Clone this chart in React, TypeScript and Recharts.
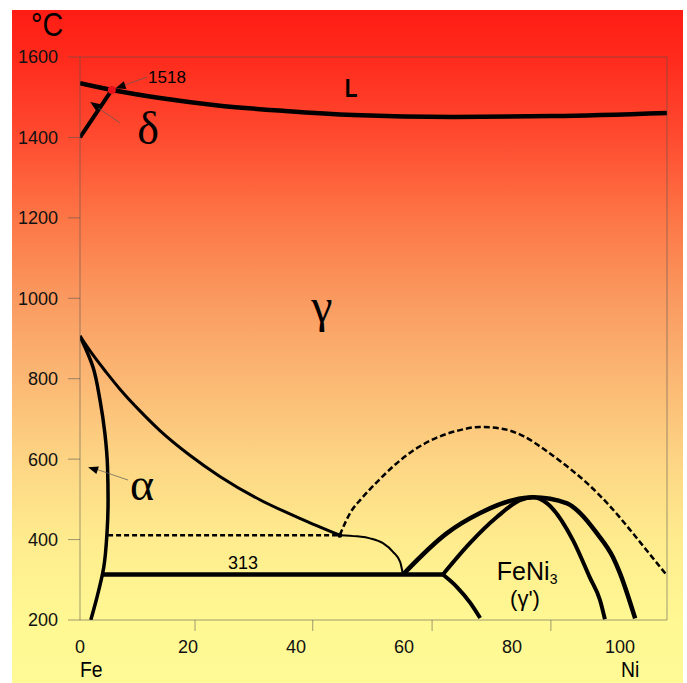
import React from "react";
import {
  ComposedChart,
  Line,
  XAxis,
  YAxis,
  ReferenceDot,
  ReferenceLine,
} from "recharts";

// axis ticks
const xLabelTicks = [0, 20, 40, 60, 80, 100];
const xMarkTicks = [21.3, 43.1, 65.2, 87.2];
const yTicks = [200, 400, 600, 800, 1000, 1200, 1400, 1600];

// phase boundaries, [wt% Ni, °C]
const liquidus = [[0, 1535], [5.9, 1518], [14.8, 1498], [25.9, 1479], [38, 1466], [50.6, 1456], [69.1, 1451], [87.6, 1453], [108.7, 1461]];
const deltaLine = [[0, 1400], [5.9, 1518]];
const gammaSolvus = [[0, 906], [2.4, 859], [4.8, 817], [7.4, 774], [11.1, 720], [14.8, 671], [20.4, 609], [25.9, 557], [33.3, 499], [40.7, 453], [48.1, 411]];
const alphaBoundary = [[0, 906], [2.4, 829], [3.7, 747], [4.6, 665], [5.1, 580], [5.2, 498], [5.0, 416], [4.4, 331], [3.0, 249], [2.0, 200]];
const dashed410 = [[5.2, 411], [48.1, 411]];
const magnetic = [[48.1, 411], [51.3, 408], [53.7, 403], [56.1, 391], [58.0, 369], [59.3, 344], [59.8, 313]];
const curie = [[48.1, 411], [50.2, 470], [52, 500], [55, 543], [58.5, 588], [62, 624], [66, 653], [70, 671], [74, 680], [78, 676], [82, 658], [86, 624], [90, 584], [94, 539], [98, 485], [102, 422], [105, 372], [108.5, 314]];
const eutectoid313 = [[4.1, 313], [67.2, 313]];
const domeOuter = [[59.8, 313], [67.96, 416], [74.1, 466], [80.2, 498], [83.9, 505], [90.2, 490], [92.6, 466], [95.7, 416], [98.7, 356], [100, 316], [102.8, 204]];
const domeInner = [[67.2, 313], [72.2, 391], [77.2, 456], [81.5, 498], [83.9, 505], [86.5, 490], [91.3, 398], [94.4, 306], [96.3, 249], [97.2, 202]];
const lowerBranch = [[67.2, 313], [69.8, 282], [72.2, 244], [74.1, 205]];

// annotation leaders [from, to]
const leader1518 = [[12.4, 1550], [6.6, 1522]];
const leaderDelta = [[7.4, 1436], [3.3, 1474]];
const leaderAlpha = [[8.9, 548], [2.8, 576]];

const toPts = (arr: number[][]) => arr.map(([x, t]) => ({ x, t }));
const toSeg = (arr: number[][]) => arr.map(([x, y]) => ({ x, y }));

const axisColor = "rgba(80,80,80,0.55)";
const sans = "'Liberation Sans', Arial, sans-serif";
const serif = "'Liberation Serif', 'Times New Roman', serif";

function BottomTick(props: any) {
  const { x, y, payload } = props;
  if (xLabelTicks.includes(payload.value)) {
    return (
      <text x={x} y={y + 27} textAnchor="middle" dominantBaseline="central" fontSize={18} fontFamily={sans} fill="#111">
        {payload.value}
      </text>
    );
  }
  return <line x1={x} x2={x} y1={y} y2={y + 11} stroke={axisColor} />;
}

const EmptyTick = () => <g />;

const arrow = (angle: number) => (p: any) => (
  <polygon
    points="0,0 -10,-4 -10,4"
    fill="#000"
    transform={`translate(${p.cx},${p.cy}) rotate(${angle})`}
  />
);

const label = (text: React.ReactNode, size: number, family: string, weight = "normal", sx = 1) => (p: any) => (
  <text
    x={0}
    y={0}
    transform={`translate(${p.cx},${p.cy}) scale(${sx},1)`}
    textAnchor="middle"
    dominantBaseline="central"
    fontSize={size}
    fontFamily={family}
    fontWeight={weight}
    fill="#000"
  >
    {text}
  </text>
);

function Curve({ data, width, dash, type = "monotone" }: any) {
  return (
    <Line
      data={toPts(data)}
      dataKey="t"
      type={type}
      stroke="#000"
      strokeWidth={width}
      strokeDasharray={dash}
      strokeLinecap="butt"
      dot={false}
      activeDot={false}
      isAnimationActive={false}
      legendType="none"
    />
  );
}

export default function App() {
  return (
    <div style={{ position: "absolute", left: 0, top: 0, width: 687, height: 683, overflow: "hidden", background: "#fff" }}>
      <div
        style={{
          position: "absolute",
          left: 12,
          top: 10,
          width: 671,
          height: 673,
          background:
            "linear-gradient(to bottom, #ff1c14 0%, #ff2a1c 7%, #ff4b30 19%, #fd7646 31%, #fa9a60 43%, #fbb874 55%, #fdd584 67%, #feec8e 79%, #fff893 91%, #fffa96 100%)",
        }}
      />
      <div style={{ position: "absolute", left: 31, top: 5, fontFamily: sans, fontSize: 34, color: "#000", transform: "scaleX(0.84)", transformOrigin: "left top" }}>°C</div>
      <div style={{ position: "absolute", left: 80, top: 658, fontFamily: sans, fontSize: 22, lineHeight: "24px", color: "#000", transform: "scaleX(0.88)", transformOrigin: "left top" }}>Fe</div>
      <div style={{ position: "absolute", left: 621, top: 658, fontFamily: sans, fontSize: 22, lineHeight: "24px", color: "#000", transform: "scaleX(0.88)", transformOrigin: "left top" }}>Ni</div>
      <div style={{ position: "absolute", left: 0, top: 0 }}>
        <ComposedChart width={687} height={683} margin={{ top: 45, right: 0, bottom: 0, left: 0 }}>
          <XAxis
            dataKey="x"
            type="number"
            domain={[0, 108.7]}
            allowDataOverflow
            ticks={[...xLabelTicks, ...xMarkTicks]}
            interval={0}
            tick={<BottomTick />}
            tickLine={false}
            tickSize={0}
            tickMargin={0}
            axisLine={{ stroke: axisColor }}
            height={63}
          />
          <XAxis
            xAxisId="top"
            orientation="top"
            type="number"
            domain={[0, 108.7]}
            ticks={xMarkTicks}
            interval={0}
            tick={EmptyTick}
            tickSize={11}
            tickLine={{ stroke: axisColor }}
            axisLine={{ stroke: axisColor }}
            height={12}
          />
          <YAxis
            type="number"
            domain={[200, 1600]}
            allowDataOverflow
            ticks={yTicks}
            interval={0}
            width={80}
            tickSize={12}
            tickMargin={10}
            tick={{ fontSize: 18, fontFamily: sans, fill: "#111" }}
            tickLine={{ stroke: axisColor }}
            axisLine={{ stroke: axisColor }}
          />
          <YAxis
            yAxisId="right"
            orientation="right"
            type="number"
            domain={[200, 1600]}
            ticks={yTicks}
            interval={0}
            width={20}
            tickSize={10}
            tick={EmptyTick}
            tickLine={{ stroke: axisColor }}
            axisLine={{ stroke: axisColor }}
          />

          {Curve({ data: liquidus, width: 4.5 })}
          {Curve({ data: deltaLine, width: 4, type: "linear" })}
          {Curve({ data: gammaSolvus, width: 3 })}
          {Curve({ data: alphaBoundary, width: 3.5, type: "monotoneY" })}
          {Curve({ data: dashed410, width: 2.5, dash: "5 3", type: "linear" })}
          {Curve({ data: magnetic, width: 2 })}
          {Curve({ data: curie, width: 2.5, dash: "6 3" })}
          {Curve({ data: eutectoid313, width: 4.5, type: "linear" })}
          {Curve({ data: domeOuter, width: 4.5 })}
          {Curve({ data: domeInner, width: 4 })}
          {Curve({ data: lowerBranch, width: 4 })}

          <ReferenceLine segment={toSeg(leader1518)} stroke="rgba(90,90,90,0.7)" strokeWidth={1} />
          <ReferenceLine segment={toSeg(leaderDelta)} stroke="rgba(90,90,90,0.7)" strokeWidth={1} />
          <ReferenceLine segment={toSeg(leaderAlpha)} stroke="rgba(90,90,90,0.7)" strokeWidth={1} />

          <ReferenceDot x={5.9} y={1518} r={4} fill="#e8101a" stroke="none" />
          <ReferenceDot x={48.1} y={411} r={2.5} fill="#000" stroke="none" />
          <ReferenceDot x={6.6} y={1522} shape={arrow(161)} />
          <ReferenceDot x={1.9} y={1488} shape={arrow(-146)} />
          <ReferenceDot x={1.5} y={580} shape={arrow(-162)} />

          <ReferenceDot x={16.1} y={1548} shape={label("1518", 17, sans)} />
          <ReferenceDot x={50.2} y={1523} shape={label("L", 26, sans, "bold", 0.8)} />
          <ReferenceDot x={12.6} y={1423} shape={label("δ", 46, serif)} />
          <ReferenceDot x={44.8} y={983} shape={label("γ", 48, serif)} />
          <ReferenceDot x={11.5} y={538} shape={label("α", 46, serif)} />
          <ReferenceDot x={30.2} y={341} shape={label("313", 18, sans)} />
          <ReferenceDot
            x={82.8}
            y={321}
            shape={label(
              <>
                FeNi<tspan fontSize={14} dy={8}>3</tspan>
              </>,
              25,
              sans
            )}
          />
          <ReferenceDot x={82.4} y={254} shape={label("(γ')", 22, sans)} />
        </ComposedChart>
      </div>
    </div>
  );
}
